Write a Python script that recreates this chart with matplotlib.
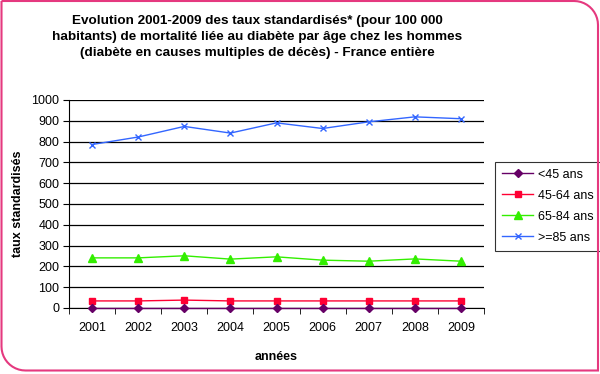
import numpy as np
import matplotlib
matplotlib.use("Agg")
import matplotlib.pyplot as plt
from matplotlib.path import Path
from matplotlib.patches import PathPatch

plt.rcParams["font.family"] = ["Liberation Sans", "DejaVu Sans"]

# données
annees = ["2001", "2002", "2003", "2004", "2005", "2006", "2007", "2008", "2009"]
moins_45 = [2, 2, 2, 2, 2, 2, 2, 2, 2]
de_45_64 = [34, 34, 38, 34, 34, 34, 34, 34, 34]
de_65_84 = [241, 241, 251, 235, 246, 230, 225, 236, 225]
plus_85 = [786, 822, 873, 841, 890, 863, 895, 919, 910]
etiquettes = ["<45 ans", "45-64 ans", "65-84 ans", ">=85 ans"]

W, H = 600, 374
fig = plt.figure(figsize=(W / 100, H / 100), dpi=100)
fig.patch.set_facecolor("white")


def cadre(x0, y0, x1, y1, r):
    # rectangle avec coins arrondis en bas-gauche et en haut-droite (pixels)
    pts = [(x0, y1), (x0, y0 + r)]
    t = np.linspace(np.pi, 1.5 * np.pi, 12)
    pts += [(x0 + r + r * np.cos(a), y0 + r + r * np.sin(a)) for a in t]
    pts += [(x1, y0)]
    pts += [(x1, y1 - r)]
    t = np.linspace(0, 0.5 * np.pi, 12)
    pts += [(x1 - r + r * np.cos(a), y1 - r + r * np.sin(a)) for a in t]
    pts += [(x0, y1)]
    return Path([(x / W, y / H) for x, y in pts])


fig.patches.append(PathPatch(cadre(1.5, 3.5, 598, 373, 24), transform=fig.transFigure,
                             facecolor="none", edgecolor="#E5397F", linewidth=1.5))

ax = fig.add_axes([69 / W, 1 - 308 / H, 415 / W, 208 / H])
x = np.arange(1, len(annees) + 1)

ax.plot(x, moins_45, color="#660066", marker="D", markersize=4, linewidth=1,
        label=etiquettes[0], clip_on=False, zorder=5)
ax.plot(x, de_45_64, color="#FF0033", marker="s", markersize=5, linewidth=1,
        label=etiquettes[1], zorder=4)
ax.plot(x, de_65_84, color="#33EE00", marker="^", markersize=5.5, linewidth=1,
        label=etiquettes[2], zorder=4)
ax.plot(x, plus_85, color="#3366FF", marker="x", markersize=4, linewidth=1,
        label=etiquettes[3], zorder=4)

ax.set_xlim(0.5, len(annees) + 0.5)
ax.set_ylim(0, 1000)
ax.set_yticks(range(0, 1001, 100))
ax.set_xticks(x)
ax.set_xticklabels(annees)
ax.set_xticks(np.arange(0.5, len(annees) + 1, 1), minor=True)
ax.tick_params(axis="x", which="major", length=0, pad=10, labelsize=9)
ax.tick_params(axis="x", which="minor", length=4, direction="out")
ax.tick_params(axis="y", length=4, direction="out", labelsize=9, pad=3)
ax.grid(axis="y", color="black", linewidth=0.9)
ax.set_axisbelow(True)
for s in ["top", "right"]:
    ax.spines[s].set_visible(False)

ax.set_xlabel("années", fontsize=9, fontweight="bold", labelpad=12)
ax.set_ylabel("taux standardisés", fontsize=9, fontweight="bold", labelpad=5)

fig.text(257 / W, 1 - 37 / H,
         "Evolution 2001-2009 des taux standardisés* (pour 100 000\n"
         "habitants) de mortalité liée au diabète par âge chez les hommes\n"
         "(diabète en causes multiples de décès) - France entière",
         ha="center", va="center", fontsize=9.7, fontweight="bold", linespacing=1.45)

leg = ax.legend(loc="upper left", bbox_to_anchor=(495 / W, 1 - 162 / H), bbox_transform=fig.transFigure,
                fontsize=9, frameon=True, fancybox=False, edgecolor="black", handlelength=2.5,
                borderpad=0.55, labelspacing=0.72, handletextpad=0.4, borderaxespad=0)
leg.get_frame().set_linewidth(0.8)

fig.savefig("out.png", dpi=100)
